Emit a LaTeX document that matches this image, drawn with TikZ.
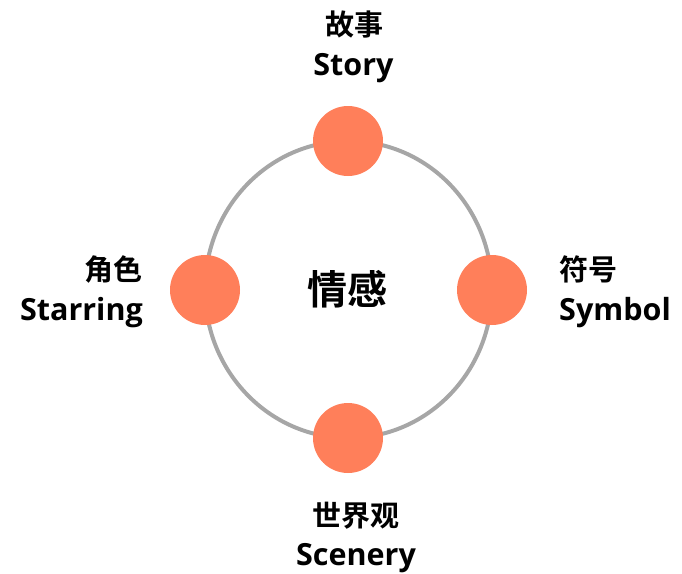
\documentclass[tikz,border=0pt]{standalone}
\usepackage{fontspec}
\newfontfamily\cjk{Noto Sans CJK SC Bold}
\newfontfamily\lat{Open Sans}[BoldFont={Open Sans Bold}]
\definecolor{ringgray}{HTML}{A6A6A6}
\definecolor{coral}{HTML}{FF7F5A}
\begin{document}
\begin{tikzpicture}[x=1pt,y=-1pt,
  dot/.style={circle,fill=coral,minimum size=70pt,inner sep=0pt},
  zh/.style={font=\cjk\fontsize{29}{34}\selectfont,inner sep=0pt},
  en/.style={font=\lat\bfseries\fontsize{30.5}{36}\selectfont,inner sep=0pt}]
\useasboundingbox (0,0) rectangle (682,573);
\draw[ringgray,line width=4pt] (348.5,289.5) ellipse [x radius=143.5,y radius=148.5];
\node[dot] (top) at (348,141) {};
\node[dot] (bot) at (348,438) {};
\node[dot] (lft) at (205,290) {};
\node[dot] (rgt) at (492,290) {};
\node[font=\cjk\fontsize{40}{46}\selectfont,inner sep=0pt] (mid) at (347,289) {情感};
\node[zh] (tzh) at (354,25) {故事};
\node[en,anchor=base] (ten) at (353.5,75) {Story};
\node[zh,anchor=east] (lzh) at (143,269) {角色};
\node[en,anchor=base east] (len) at (143,320) {Starring};
\node[zh,anchor=west] (rzh) at (559,269) {符号};
\node[en,anchor=base west] (ren) at (559,320) {Symbol};
\node[zh] (bzh) at (356,516) {世界观};
\node[en,anchor=base] (ben) at (356,565) {Scenery};
\end{tikzpicture}
\end{document}
